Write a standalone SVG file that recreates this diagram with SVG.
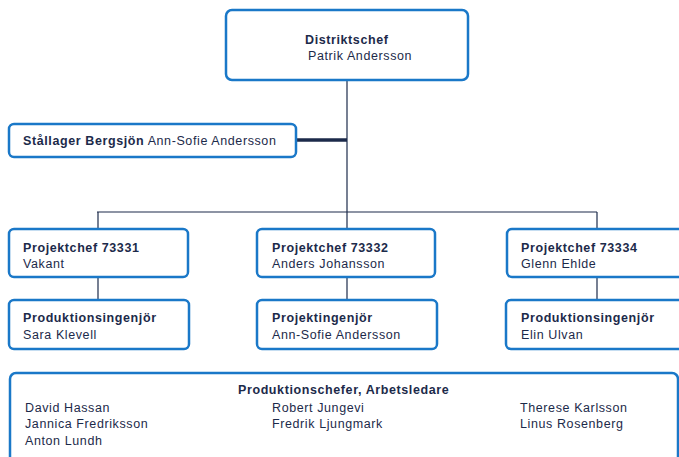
<svg xmlns="http://www.w3.org/2000/svg" width="679" height="457" viewBox="0 0 679 457">
<style>
.box{fill:#fff;stroke:#1a78c8;stroke-width:2.5}
.t{font-family:"Liberation Sans",Arial,sans-serif;font-size:12.5px;fill:#1c2a4a;letter-spacing:0.6px}
.b{font-weight:bold}
.ln{stroke:#1c2a4a;stroke-width:1.2;fill:none}
</style>
<rect width="679" height="457" fill="#fff"/>
<g id="connectors">
<line class="ln" x1="347" y1="80" x2="347" y2="212"/>
<line x1="296" y1="140" x2="347" y2="140" stroke="#1c2a4a" stroke-width="3.5"/>
<line class="ln" x1="97" y1="212" x2="597" y2="212"/>
<line class="ln" x1="98" y1="212" x2="98" y2="229"/>
<line class="ln" x1="347" y1="212" x2="347" y2="229"/>
<line class="ln" x1="597" y1="212" x2="597" y2="229"/>
<line class="ln" x1="98" y1="277" x2="98" y2="300"/>
<line class="ln" x1="347" y1="277" x2="347" y2="300"/>
<line class="ln" x1="597" y1="277" x2="597" y2="300"/>
</g>
<g id="distriktschef">
<rect class="box" x="226" y="10" width="242" height="70" rx="6"/>
<text class="t b" x="305" y="44">Distriktschef</text>
<text class="t" x="308" y="60">Patrik Andersson</text>
</g>
<g id="stallager">
<rect class="box" x="9" y="124" width="287" height="33" rx="5"/>
<text class="t" x="23" y="145"><tspan class="b">Stållager Bergsjön</tspan> Ann-Sofie Andersson</text>
</g>
<g id="pc73331">
<rect class="box" x="9" y="229" width="179" height="48" rx="5"/>
<text class="t b" x="23" y="252">Projektchef 73331</text>
<text class="t" x="23" y="268">Vakant</text>
</g>
<g id="pi1">
<rect class="box" x="9" y="300" width="180" height="49" rx="5"/>
<text class="t b" x="23" y="322">Produktionsingenjör</text>
<text class="t" x="23" y="339">Sara Klevell</text>
</g>
<g id="pc73332">
<rect class="box" x="257" y="229" width="178" height="48" rx="5"/>
<text class="t b" x="272" y="252">Projektchef 73332</text>
<text class="t" x="272" y="268">Anders Johansson</text>
</g>
<g id="pi2">
<rect class="box" x="257" y="300" width="180" height="49" rx="5"/>
<text class="t b" x="272" y="322">Projektingenjör</text>
<text class="t" x="272" y="339">Ann-Sofie Andersson</text>
</g>
<g id="pc73334">
<rect class="box" x="507" y="229" width="180" height="48" rx="5"/>
<text class="t b" x="521" y="252">Projektchef 73334</text>
<text class="t" x="521" y="268">Glenn Ehlde</text>
</g>
<g id="pi3">
<rect class="box" x="506" y="300" width="182" height="49" rx="5"/>
<text class="t b" x="521" y="322">Produktionsingenjör</text>
<text class="t" x="521" y="339">Elin Ulvan</text>
</g>
<g id="produktionschefer">
<rect class="box" x="10" y="373" width="668" height="100" rx="6"/>
<text class="t b" x="238" y="394">Produktionschefer, Arbetsledare</text>
<text class="t" x="25" y="412">David Hassan</text>
<text class="t" x="25" y="428">Jannica Fredriksson</text>
<text class="t" x="25" y="445">Anton Lundh</text>
<text class="t" x="272" y="412">Robert Jungevi</text>
<text class="t" x="272" y="428">Fredrik Ljungmark</text>
<text class="t" x="520" y="412">Therese Karlsson</text>
<text class="t" x="520" y="428">Linus Rosenberg</text>
</g>
</svg>
